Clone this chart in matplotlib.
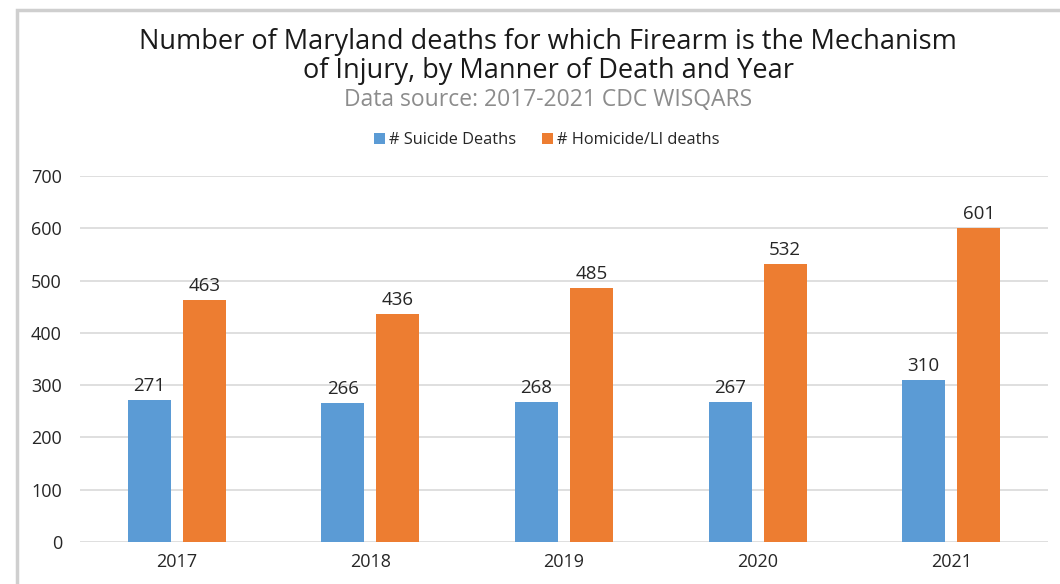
import numpy as np
import matplotlib.pyplot as plt
from matplotlib.patches import Rectangle

years = ["2017", "2018", "2019", "2020", "2021"]
suicide = [271, 266, 268, 267, 310]
homicide = [463, 436, 485, 532, 601]

plt.rcParams['font.family'] = ['Open Sans', 'DejaVu Sans']

fig = plt.figure(figsize=(10.6, 5.84), dpi=100)
fig.patch.set_facecolor('white')

# frame like the pasted chart box
fig.patches.append(Rectangle((17 / 1060, -0.05), 1.1, 1 - 10 / 584 + 0.05,
                             transform=fig.transFigure, fill=False,
                             edgecolor='#cfcfcf', linewidth=2.5))

ax = fig.add_axes([80 / 1060, 1 - 542 / 584, 968 / 1060, 366 / 584])

x = np.arange(len(years))
w = 0.222
off = 0.142
b1 = ax.bar(x - off, suicide, w, color='#5B9BD5', label='# Suicide Deaths', zorder=3)
b2 = ax.bar(x + off, homicide, w, color='#ED7D31', label='# Homicide/LI deaths', zorder=3)

for bars in (b1, b2):
    for b in bars:
        ax.text(b.get_x() + b.get_width() / 2, b.get_height() + 10,
                f"{int(b.get_height())}", ha='center', va='bottom',
                fontsize=13.5, color='#262626')

ax.set_xlim(-0.5, len(years) - 0.5)
ax.set_ylim(0, 700)
ax.set_yticks(range(0, 701, 100))
ax.set_xticks(x)
ax.set_xticklabels(years)
ax.tick_params(axis='both', length=0, labelsize=13, colors='#262626')
ax.tick_params(axis='y', pad=13)
ax.tick_params(axis='x', pad=8)
ax.grid(axis='y', color='#d9d9d9', linewidth=1.2, zorder=0)
for s in ax.spines.values():
    s.set_visible(False)

fig.text(0.517, 1 - 42 / 584, "Number of Maryland deaths for which Firearm is the Mechanism",
         ha='center', va='center', fontsize=19.5, color='#1a1a1a')
fig.text(0.517, 1 - 71 / 584, "of Injury, by Manner of Death and Year",
         ha='center', va='center', fontsize=19.5, color='#1a1a1a')
fig.text(0.517, 1 - 100 / 584, "Data source: 2017-2021 CDC WISQARS",
         ha='center', va='center', fontsize=16.5, color='#8c8c8c')

fig.legend(handles=[b1, b2], loc='center', bbox_to_anchor=(547 / 1060, 1 - 140 / 584),
           ncol=2, frameon=False, fontsize=11.8, handlelength=0.65, handleheight=0.65,
           handletextpad=0.25, columnspacing=1.6, labelcolor='#262626')

plt.savefig('out.png', dpi=100, facecolor='white')
